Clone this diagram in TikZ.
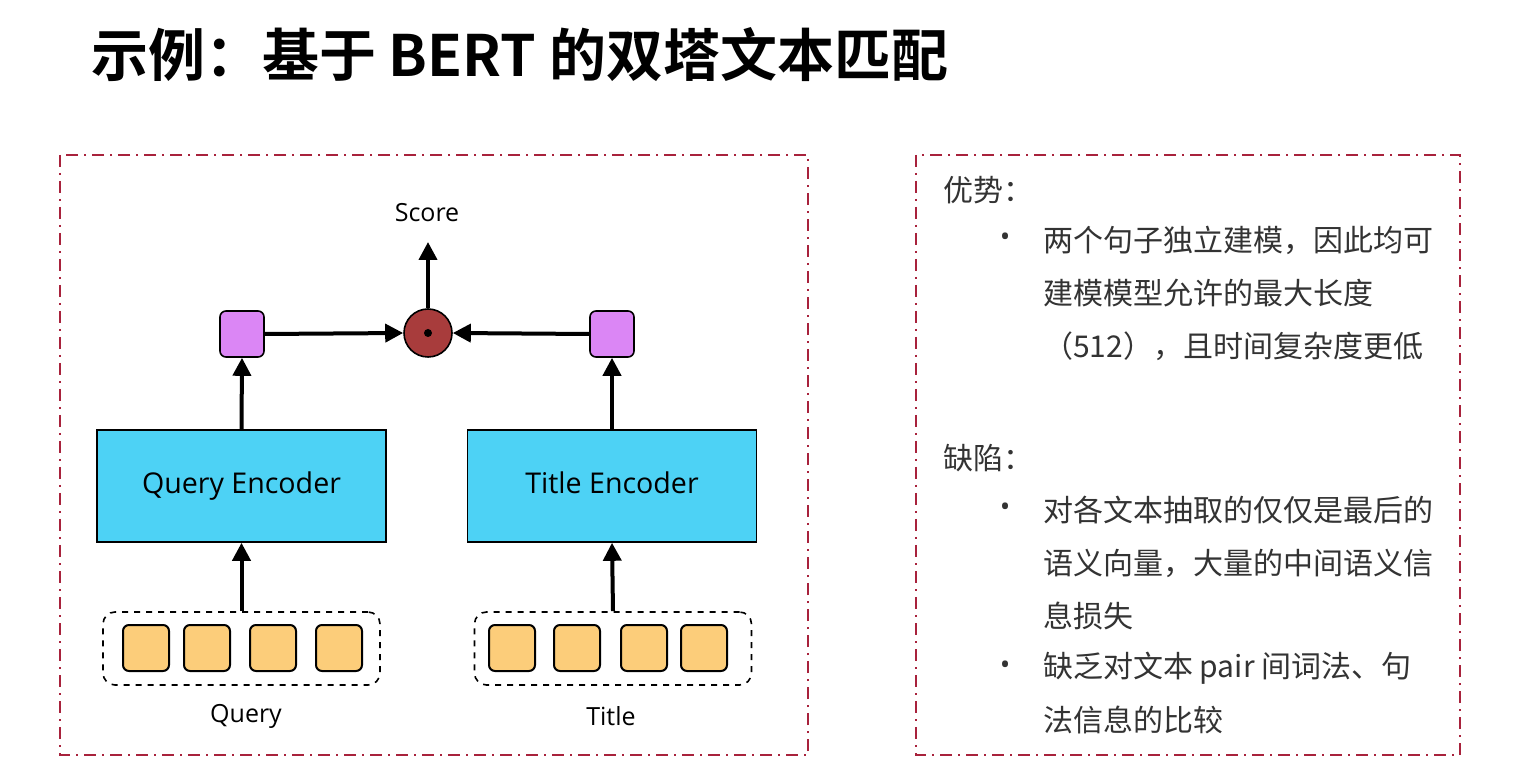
\documentclass[tikz,border=0pt]{standalone}
\usepackage{fontspec}
\setmainfont{Open Sans}
\newfontfamily\cjk{Noto Sans CJK SC}
\newfontfamily\cjkb{Noto Sans CJK SC Bold}
\usetikzlibrary{arrows.meta}
\definecolor{frm}{HTML}{A8223C}
\definecolor{enc}{HTML}{4DD2F5}
\definecolor{tok}{HTML}{FCCD7A}
\definecolor{pur}{HTML}{DB86F5}
\definecolor{dotc}{HTML}{A83C3C}
\definecolor{txt}{HTML}{333333}
\begin{document}
\begin{tikzpicture}[x=0.5pt,y=-0.5pt,
  frame/.style={draw=frm,line width=0.8pt,dash pattern=on 6pt off 3pt on 1pt off 3pt},
  encbox/.style={draw=black,fill=enc,line width=0.8pt,minimum width=144.5pt,minimum height=56pt,font=\fontsize{14.3}{16}\selectfont},
  tokbox/.style={draw=black,fill=tok,line width=1pt,rounded corners=3pt,minimum size=23pt,inner sep=0},
  purbox/.style={draw=black,fill=pur,line width=0.8pt,rounded corners=3pt,minimum width=22pt,minimum height=23pt,inner sep=0},
  grp/.style={draw=black,dashed,line width=0.8pt,rounded corners=6pt,minimum width=138.5pt,minimum height=36.5pt},
  arr/.style={-{Triangle[length=9pt,width=9pt]},line width=2pt},
  lbl/.style={font=\fontsize{12.5}{15}\selectfont},
  rt/.style={anchor=west,text=txt,font=\cjk\fontsize{15}{18}\selectfont}]
\useasboundingbox (0,0) rectangle (1513,779);
\fill[white] (0,0) rectangle (1513,779);
\node[anchor=west,font=\cjkb\fontsize{28.5}{32}\selectfont] (title) at (84,55) {示例：基于 BERT 的双塔文本匹配};
\draw[frame] (60,155) rectangle (808,755);
\draw[frame] (916,155) rectangle (1460,755);
\node[grp] (gq) at (241.5,648.5) {};
\node[grp] (gt) at (613,648.5) {};
\foreach \x/\n in {146/q1,207/q2,273/q3,339/q4,512/t1,577/t2,644/t3,704/t4}
  \node[tokbox] (\n) at (\x,648) {};
\node[lbl] (lq) at (246,716) {Query};
\node[lbl] (lt) at (611,716) {Title};
\node[encbox] (eq) at (241.5,486) {Query Encoder\vphantom{Ty}};
\node[encbox] (et) at (612,486) {Title Encoder\vphantom{Ty}};
\node[purbox] (pq) at (242,334) {};
\node[purbox] (pt) at (612,334) {};
\node[circle,draw=black,fill=dotc,line width=0.8pt,minimum size=24pt,inner sep=0] (c) at (428,333) {};
\fill (c.center) circle (2pt);
\node[lbl] (sc) at (427,213) {Score};
\coordinate (top) at (428,242);
\draw[arr] (gq.north) -- (eq.south);
\draw[arr] (gt.north) -- (et.south);
\draw[arr] (eq.north) -- (pq.south);
\draw[arr] (et.north) -- (pt.south);
\draw[arr] (pq.east) -- (c.west);
\draw[arr] (pt.west) -- (c.east);
\draw[arr] (c.north) -- (top);
\node[rt] (a0) at (936,190) {优势：};
\node[text=txt,font=\fontsize{14}{16}\selectfont] (b1) at (1005,240) {•};
\node[rt] (a1) at (1036,240) {两个句子独立建模，因此均可};
\node[rt] (a2) at (1036,293) {建模模型允许的最大长度};
\node[rt] (a3) at (1036,346) {（512），且时间复杂度更低};
\node[rt] (d0) at (936,458) {缺陷：};
\node[text=txt,font=\fontsize{14}{16}\selectfont] (b2) at (1005,510) {•};
\node[rt] (d1) at (1036,510) {对各文本抽取的仅仅是最后的};
\node[rt] (d2) at (1036,563) {语义向量，大量的中间语义信};
\node[rt] (d3) at (1036,616) {息损失};
\node[text=txt,font=\fontsize{14}{16}\selectfont] (b3) at (1005,668) {•};
\node[rt] (d4) at (1036,668) {缺乏对文本 pair 间词法、句};
\node[rt] (d5) at (1036,720) {法信息的比较};
\end{tikzpicture}
\end{document}
